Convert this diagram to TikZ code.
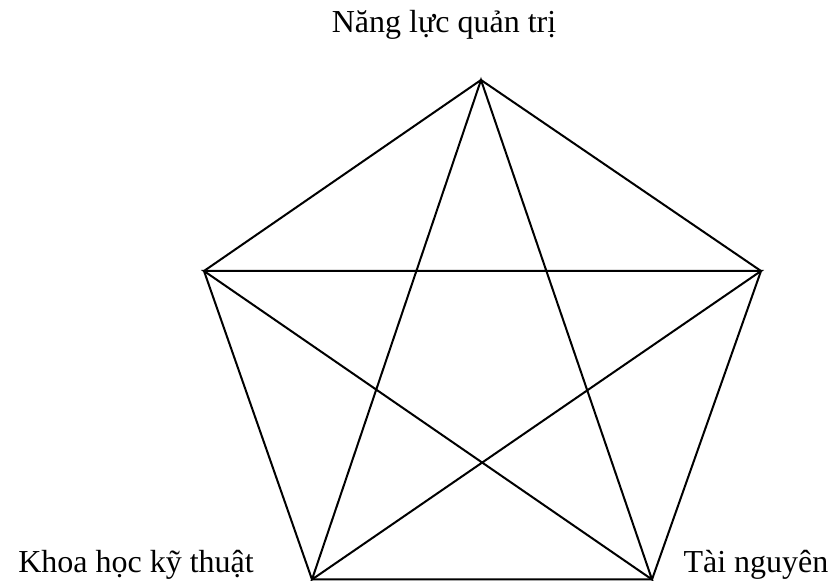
\documentclass[tikz,border=0pt]{standalone}
\usepackage{fontspec}
\setmainfont{Liberation Serif}
\usepackage{tikz}
\usetikzlibrary{positioning}

\begin{document}
\begin{tikzpicture}[x=0.75pt, y=0.75pt, line width=1.5pt,
    lbl/.style={font=\fontsize{24}{28}\selectfont, anchor=base, inner sep=0pt}]
  \useasboundingbox (0,0) rectangle (833,581);
  % corners of the pentagon
  \coordinate (top)      at (481,501);
  \coordinate (left)     at (204,310);
  \coordinate (right)    at (761,310);
  \coordinate (botleft)  at (312,1.5);
  \coordinate (botright) at (652,1.5);
  % outline and star
  \draw (top) -- (right) -- (botright) -- (botleft) -- (left) -- cycle;
  \draw (top) -- (botleft) -- (right) -- (left) -- (botright) -- cycle;
  % labels
  \node[lbl] (quantri)   at (444,548) {Năng lực quản trị};
  \node[lbl] (kythuat)   at (136,8)   {Khoa học kỹ thuật};
  \node[lbl] (tainguyen) at (756,8)   {Tài nguyên};
\end{tikzpicture}
\end{document}
